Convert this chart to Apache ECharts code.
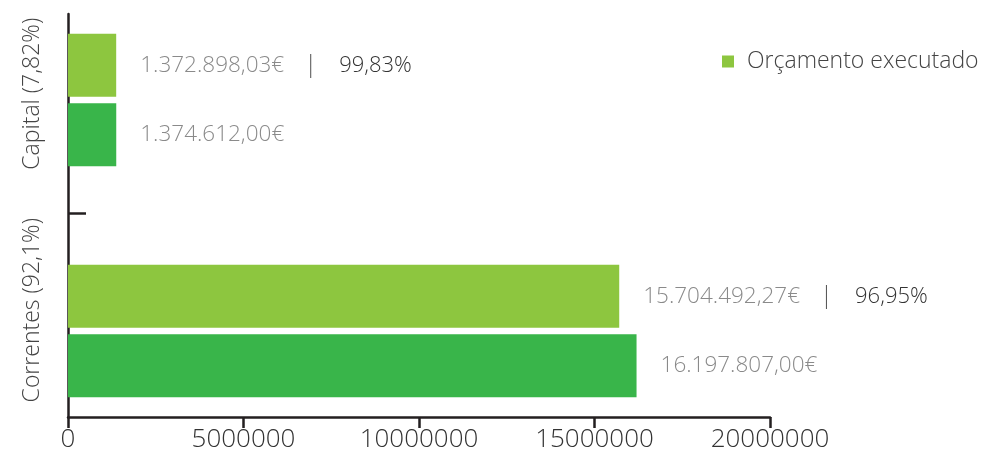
<!DOCTYPE html>
<html>
<head>
<meta charset="utf-8">
<script src="https://cdn.jsdelivr.net/npm/echarts@6/dist/echarts.min.js"></script>
<style>html,body{margin:0;padding:0;background:#fff}#c{width:996px;height:464px}</style>
</head>
<body>
<div id="c"></div>
<script>
const categories = ['Capital (7,82%)', 'Correntes (92,1%)'];
const executado = [1372898.03, 15704492.27];
const orcamento = [1374612.00, 16197807.00];
const percentLabels = ['99,83%', '96,95%'];
const xTicks = [0, 5000000, 10000000, 15000000, 20000000];

function fmt(v) {
  const parts = v.toFixed(2).split('.');
  const int = parts[0].replace(/\B(?=(\d{3})+(?!\d))/g, '.');
  return int + ',' + parts[1] + '€';
}

const FONT = '"Open Sans", sans-serif';
const AX = '#231f20';
const xMin = xTicks[0], xMax = xTicks[xTicks.length - 1], xInt = xTicks[1] - xTicks[0];
const chart = echarts.init(document.getElementById('c'));
chart.setOption({
  animation: false,
  backgroundColor: '#fff',
  legend: {
    data: ['Orçamento executado'],
    left: 722, top: 50, padding: 0,
    icon: 'rect', itemWidth: 12, itemHeight: 12,
    textStyle: { fontFamily: FONT, fontSize: 23, color: '#444', fontWeight: 300, padding: [0, 0, 0, 8] }
  },
  grid: [
    { left: 68, top: 14, right: 226, bottom: 47 },
    { left: 68, top: 100, right: 226, bottom: 133 },
    { left: 68, top: 9, width: 18, bottom: 47 }
  ],
  xAxis: [
    {
      gridIndex: 0, type: 'value', min: xMin, max: xMax, interval: xInt,
      splitLine: { show: false },
      axisLine: { show: true, lineStyle: { color: AX, width: 2.5 } },
      axisTick: { show: true, length: 11, lineStyle: { color: AX, width: 2.5 } },
      axisLabel: { fontFamily: FONT, fontSize: 26, fontWeight: 300, color: '#333', margin: 10,
                   formatter: function (v) { return String(v); } }
    },
    { gridIndex: 1, type: 'value', min: xMin, max: xMax, show: false },
    { gridIndex: 2, type: 'value', min: 0, max: 1, show: false }
  ],
  yAxis: [
    {
      gridIndex: 0, type: 'category', data: categories, inverse: true,
      axisLine: { show: true, lineStyle: { color: AX, width: 2.5 } },
      axisTick: { show: false },
      axisLabel: {
        interval: 0, rotate: 90, margin: 24,
        formatter: function (v, i) { return '{c' + i + '|' + v + '}'; },
        rich: {
          c0: { fontFamily: FONT, fontSize: 23, fontWeight: 300, color: '#444', padding: [0, 0, 0, 42] },
          c1: { fontFamily: FONT, fontSize: 23, fontWeight: 300, color: '#444', padding: [0, 0, 0, 12] }
        }
      }
    },
    { gridIndex: 1, type: 'category', data: categories, inverse: true, boundaryGap: false, show: false },
    {
      gridIndex: 2, type: 'value', min: 0, max: 2, interval: 1, inverse: true,
      axisLine: { show: false }, axisTick: { show: false }, axisLabel: { show: false },
      splitLine: { show: true, showMinLine: false, showMaxLine: false, lineStyle: { color: AX, width: 2.5 } }
    }
  ],
  series: [
    {
      name: 'Orçamento executado',
      type: 'bar', xAxisIndex: 1, yAxisIndex: 1,
      data: executado,
      barWidth: 63,
      barGap: '10%',
      itemStyle: { color: '#8dc63f' },
      label: {
        show: true, position: 'right', distance: 24,
        formatter: function (p) {
          return '{v|' + fmt(p.value) + '}{s||}{p|' + percentLabels[p.dataIndex] + '}';
        },
        rich: {
          v: { fontFamily: FONT, fontSize: 22.5, fontWeight: 300, color: '#8a8a8a' },
          s: { fontFamily: FONT, fontSize: 24, fontWeight: 300, color: '#555', padding: [0, 22, 0, 20] },
          p: { fontFamily: FONT, fontSize: 22, fontWeight: 300, color: '#333' }
        }
      }
    },
    {
      name: 'Orçamento',
      type: 'bar', xAxisIndex: 1, yAxisIndex: 1,
      data: orcamento,
      barWidth: 63,
      barGap: '10%',
      itemStyle: { color: '#39b54a' },
      label: {
        show: true, position: 'right', distance: 24,
        formatter: function (p) { return fmt(p.value); },
        fontFamily: FONT, fontSize: 22.5, fontWeight: 300, color: '#8a8a8a'
      }
    }
  ]
});
</script>
</body>
</html>
